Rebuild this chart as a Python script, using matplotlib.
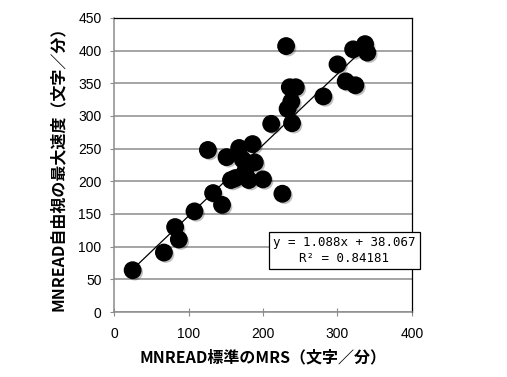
import matplotlib
matplotlib.use("Agg")
import matplotlib.pyplot as plt
import matplotlib.patheffects as pe
import numpy as np

plt.rcParams['font.family'] = ['Noto Sans CJK JP', 'DejaVu Sans']

# 標準のMRS と 自由視の最大速度（文字／分）
mrs = [25, 67, 82, 87, 108, 133, 145, 126, 151, 157, 168, 173, 176, 181, 186,
       189, 200, 226, 211, 231, 233, 238, 236, 244, 239, 281, 300, 311, 324,
       321, 337, 340, 163]
free_speed = [64, 91, 130, 111, 154, 182, 164, 248, 237, 202, 251, 233, 215,
              202, 257, 229, 203, 181, 288, 407, 311, 322, 344, 344, 289, 330,
              379, 353, 347, 402, 410, 397, 205]

# 近似直線
slope = 1.088
intercept = 38.067
r2 = 0.84181

x_ticks = [0, 100, 200, 300, 400]
y_ticks = [0, 50, 100, 150, 200, 250, 300, 350, 400, 450]

fig = plt.figure(figsize=(5.07, 3.77), dpi=100)
ax = fig.add_axes([0.2249, 0.1724, 0.5877, 0.7799])

ax.set_xlim(0, 400)
ax.set_ylim(0, 450)
ax.set_xticks(x_ticks)
ax.set_yticks(y_ticks)
ax.yaxis.grid(True, color="#8c8c8c", linewidth=1.1)
ax.set_axisbelow(True)

for side in ["left", "bottom"]:
    ax.spines[side].set_color("#8c8c8c")
    ax.spines[side].set_linewidth(1.1)
for side in ["top", "right"]:
    ax.spines[side].set_color("black")
    ax.spines[side].set_linewidth(0.9)

ax.tick_params(axis="y", direction="out", length=3, color="#8c8c8c", pad=6)
ax.tick_params(axis="x", direction="inout", length=6, color="#8c8c8c", pad=8)
for lab in ax.get_xticklabels() + ax.get_yticklabels():
    lab.set_family("Liberation Sans")
    lab.set_fontsize(10)

xs = np.array([min(mrs), max(mrs)])
ax.plot(xs, slope * xs + intercept, color="black", linewidth=0.9, zorder=2)

ax.scatter(mrs, free_speed, s=140, color="black", zorder=3,
           path_effects=[pe.SimplePatchShadow(offset=(1.5, -1.5), alpha=0.25),
                         pe.Normal()])

eq = "y = %.3fx + %.3f\nR² = %.5f" % (slope, intercept, r2)
ax.text(309, 94, eq, ha="center", va="center", multialignment="center",
        fontsize=9, family=["DejaVu Sans Mono"], linespacing=1.25,
        bbox=dict(boxstyle="square,pad=0.35", facecolor="white",
                  edgecolor="black", linewidth=0.9), zorder=4, clip_on=False)

ax.set_xlabel("MNREAD標準のMRS（文字／分）", fontsize=11.5, fontweight="bold",
              labelpad=6)
ax.set_ylabel("MNREAD自由視の最大速度（文字／分）", fontsize=11.5,
              fontweight="bold", labelpad=9)

fig.savefig("out.png", dpi=100)
plt.close()
